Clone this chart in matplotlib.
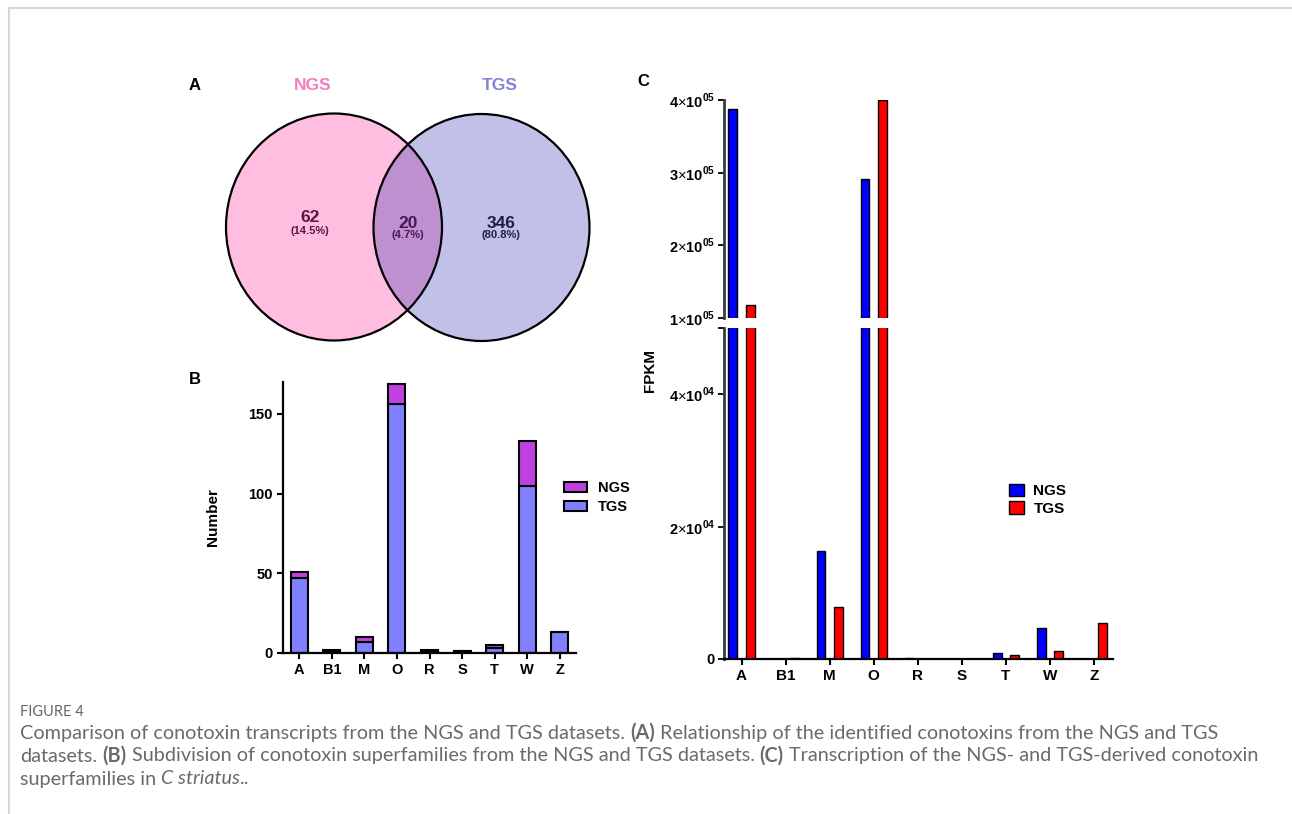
import numpy as np
import matplotlib
matplotlib.use("Agg")
import matplotlib.pyplot as plt
from matplotlib.patches import Ellipse, Patch
from matplotlib.lines import Line2D

plt.rcParams['font.family'] = ['Liberation Sans', 'DejaVu Sans']
plt.rcParams['mathtext.fontset'] = 'custom'
plt.rcParams['mathtext.rm'] = 'Liberation Sans'
plt.rcParams['mathtext.bf'] = 'Liberation Sans:bold'

# Данные: диаграмма Венна (A)
venn_names = ["NGS", "TGS"]
venn_counts = ["62", "20", "346"]
venn_pct = ["(14.5%)", "(4.7%)", "(80.8%)"]

# Данные: число конотоксинов по суперсемействам (B)
families = ["A", "B1", "M", "O", "R", "S", "T", "W", "Z"]
num_tgs = [47, 1, 7, 156, 1, 1, 3, 105, 13]
num_ngs = [4, 1, 3, 13, 1, 0, 2, 28, 0]

# Данные: FPKM (C)
fpkm_ngs = [387000, 0, 16300, 291000, 100, 0, 900, 4700, 0]
fpkm_tgs = [118000, 80, 7800, 400000, 0, 0, 600, 1150, 5500]

W, H = 1292, 814

def box(l, t, r, b):
    # пиксели -> доли фигуры
    return [l / W, 1 - b / H, (r - l) / W, (b - t) / H]

fig = plt.figure(figsize=(W / 100, H / 100), dpi=100)

# Фоновые оси в пикселях (Венн, подписи, рамка)
ax0 = fig.add_axes([0, 0, 1, 1])
ax0.set_xlim(0, W)
ax0.set_ylim(H, 0)
ax0.axis('off')

ax0.add_line(Line2D([9, W], [8, 8], color='#d6d6d6', lw=1.5))
ax0.add_line(Line2D([9, 9], [8, H], color='#d6d6d6', lw=1.5))

# ---- A: диаграмма Венна ----
c1 = (334, 227)
c2 = (481.5, 227.5)
ew, eh = 216, 227
ax0.add_patch(Ellipse(c1, ew, eh, fc='#FFBDDF', ec='none'))
ax0.add_patch(Ellipse(c2, ew, eh, fc='#C0C0E8', ec='none'))
ov = Ellipse(c2, ew, eh, fc='#BF90CF', ec='none')
ax0.add_patch(ov)
clip = Ellipse(c1, ew, eh, transform=ax0.transData)
ov.set_clip_path(clip)
ax0.add_patch(Ellipse(c1, ew, eh, fc='none', ec='black', lw=1.6))
ax0.add_patch(Ellipse(c2, ew, eh, fc='none', ec='black', lw=1.6))

ax0.text(195, 85, "A", fontsize=12, fontweight='bold', ha='center', va='center')
ax0.text(313, 86, venn_names[0], fontsize=12.5, fontweight='bold', color='#F47CBF', ha='center', va='center')
ax0.text(500, 86, venn_names[1], fontsize=12.5, fontweight='bold', color='#8383D3', ha='center', va='center')

venn_xy = [(310, 218), (408, 223), (501, 223)]
venn_col = ['#5A1646', '#4A1656', '#1C1C4C']
for (x, y), n, p, c in zip(venn_xy, venn_counts, venn_pct, venn_col):
    ax0.text(x, y, n, fontsize=12.5, fontweight='bold', color=c, ha='center', va='center')
    ax0.text(x, y + 12.5, p, fontsize=8, fontweight='bold', color=c, ha='center', va='center')

# ---- B: столбчатая диаграмма с накоплением ----
x = np.arange(len(families))
ax_b = fig.add_axes(box(283, 382, 576, 653))
ax_b.bar(x, num_tgs, width=0.52, color='#8080FF', edgecolor='black', lw=1.5, label='TGS')
ax_b.bar(x, num_ngs, width=0.52, bottom=num_tgs, color='#C040E0', edgecolor='black', lw=1.5, label='NGS')
ax_b.set_xlim(-0.5, 8.5)
ax_b.set_ylim(0, 170)
ax_b.set_yticks([0, 50, 100, 150])
ax_b.set_xticks(x)
ax_b.set_xticklabels(families)
for s in ['top', 'right']:
    ax_b.spines[s].set_visible(False)
for s in ['left', 'bottom']:
    ax_b.spines[s].set_linewidth(1.6)
ax_b.tick_params(direction='out', length=4, width=1.5, labelsize=10.5)
for lab in ax_b.get_xticklabels() + ax_b.get_yticklabels():
    lab.set_fontweight('bold')
ax_b.set_ylabel("Number", fontsize=11, fontweight='bold', labelpad=20)
ax0.text(195, 380, "B", fontsize=12, fontweight='bold', ha='center', va='center')

h_b = [Patch(fc='#C040E0', ec='black', lw=1.5), Patch(fc='#8080FF', ec='black', lw=1.5)]
fig.legend(h_b, ["NGS", "TGS"], loc='upper left', bbox_to_anchor=(564 / W, 1 - 481 / H),
           frameon=False, prop={'weight': 'bold', 'size': 10.5}, handlelength=1.55,
           handleheight=0.7, handletextpad=0.8, labelspacing=0.35, borderpad=0, borderaxespad=0)

# ---- C: FPKM с разрывом оси ----
ax_hi = fig.add_axes(box(724, 100, 1113, 318))
ax_lo = fig.add_axes(box(724, 328, 1113, 659))
for ax in (ax_hi, ax_lo):
    ax.bar(x - 0.2, fpkm_ngs, width=0.2, color='#0000FF', edgecolor='black', lw=1)
    ax.bar(x + 0.2, fpkm_tgs, width=0.2, color='#FF0000', edgecolor='black', lw=1)
    ax.set_xlim(-0.4, 8.43)
    for s in ['top', 'right']:
        ax.spines[s].set_visible(False)
    ax.spines['left'].set_linewidth(2)
    ax.spines['left'].set_color('#3a3a3a')
    ax.tick_params(direction='out', length=4, width=1.3, labelsize=10.5, pad=2)

ax_hi.set_ylim(1e5, 4e5)
ax_hi.spines['bottom'].set_visible(False)
ax_hi.set_xticks([])
ax_hi.set_yticks([1e5, 2e5, 3e5, 4e5])
ax_hi.set_yticklabels([r'$\mathbf{%d}{\times}\mathbf{10}^{\mathbf{05}}$' % k for k in [1, 2, 3, 4]])

ax_lo.set_ylim(0, 5e4)
ax_lo.spines['bottom'].set_linewidth(1.6)
ax_lo.set_yticks([0, 2e4, 4e4, 5e4])
ax_lo.set_yticklabels([r'$\mathbf{0}$', r'$\mathbf{2}{\times}\mathbf{10}^{\mathbf{04}}$',
                       r'$\mathbf{4}{\times}\mathbf{10}^{\mathbf{04}}$', ''])
ax_lo.set_xticks(x)
ax_lo.set_xticklabels(families, fontweight='bold', fontsize=11)
ax_lo.tick_params(axis='x', width=1.5, pad=3.5)

fig.text(650 / W, 1 - 370 / H, "FPKM", rotation=90, fontsize=11, fontweight='bold', ha='center', va='center')
ax0.text(643, 82, "C", fontsize=12, fontweight='bold', ha='center', va='center')

h_c = [Patch(fc='#0000FF', ec='black', lw=1), Patch(fc='#FF0000', ec='black', lw=1)]
fig.legend(h_c, ["NGS", "TGS"], loc='upper left', bbox_to_anchor=(1009 / W, 1 - 484 / H),
           frameon=False, prop={'weight': 'bold', 'size': 11}, handlelength=1.0,
           handleheight=0.85, handletextpad=0.6, labelspacing=0.2, borderpad=0, borderaxespad=0)

# ---- Подпись к рисунку ----
cap_font = ['Lato', 'DejaVu Sans']
cap_col = '#6a6a6a'
ax0.text(20, 712, "FIGURE 4", fontsize=10.5, color='#666666', family=cap_font, va='center')

caption = [
    [("Comparison of conotoxin transcripts from the NGS and TGS datasets.", 'normal', 'normal', True),
     ("(A)", 'bold', 'normal', True),
     ("Relationship of the identified conotoxins from the NGS and TGS", 'normal', 'normal', False)],
    [("datasets.", 'normal', 'normal', True),
     ("(B)", 'bold', 'normal', True),
     ("Subdivision of conotoxin superfamilies from the NGS and TGS datasets.", 'normal', 'normal', True),
     ("(C)", 'bold', 'normal', True),
     ("Transcription of the NGS- and TGS-derived conotoxin", 'normal', 'normal', False)],
    [("superfamilies in", 'normal', 'normal', True),
     ("C striatus", 'normal', 'italic', False),
     ("..", 'normal', 'normal', False)],
]

r = fig.canvas.get_renderer()

def tw(s, size, **kw):
    t = ax0.text(0, 0, s, fontsize=size, family=cap_font, **kw)
    w = t.get_window_extent(r).width
    t.remove()
    return w

def line_width(line, size):
    sp = tw("a a", size) - tw("aa", size)
    total = 0
    for txt, wt, st, f in line:
        total += tw(txt, size, fontweight=wt, fontstyle=st) + (sp if f else 0)
    return total

# подбор кегля под ширину первых двух строк
w12 = line_width(caption[0], 12) + line_width(caption[1], 12)
cap_size = 12 * (1212 + 1227) / w12
space = tw("a a", cap_size) - tw("aa", cap_size)
for i, line in enumerate(caption):
    xp = 20
    yp = 733 + i * 23
    for txt, wt, st, sp in line:
        t = ax0.text(xp, yp, txt, fontsize=cap_size, family=cap_font, fontweight=wt,
                     fontstyle=st, color=cap_col, va='center', ha='left')
        xp += t.get_window_extent(r).width + (space if sp else 0)

fig.savefig("out.png", dpi=100)
